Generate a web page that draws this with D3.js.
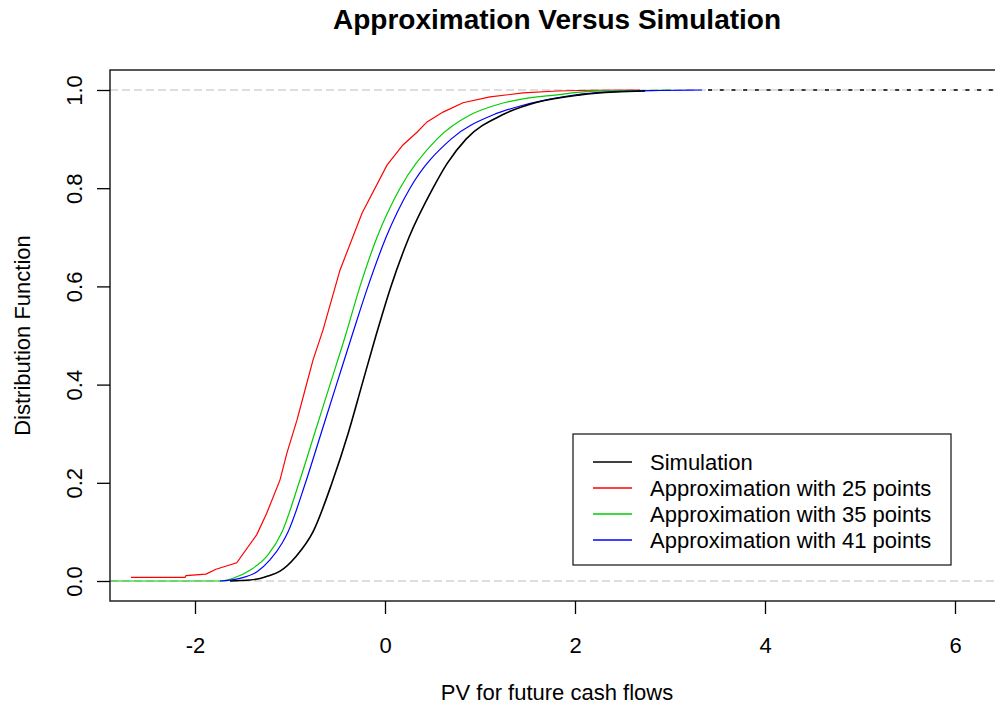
<!DOCTYPE html>
<html>
<head>
<meta charset="utf-8">
<script src="https://cdn.jsdelivr.net/npm/d3@7"></script>
<style>
  body { margin: 0; background: #fff; }
  text { font-family: "Liberation Sans", Arial, sans-serif; fill: #000; }
</style>
</head>
<body>
<div id="chart"></div>
<script>
// data: [x, F(x)]
var simulation = [
    [-1.632, 0], [-1.421, 0.002], [-1.316, 0.005], [-1.232, 0.01], [-1.105, 0.02],
    [-0.937, 0.05], [-0.758, 0.1], [-0.558, 0.2], [-0.389, 0.3], [-0.242, 0.4],
    [-0.095, 0.5], [0.063, 0.6], [0.253, 0.7], [0.505, 0.8], [0.653, 0.85],
    [0.853, 0.9], [1.242, 0.95], [1.6, 0.975], [2.053, 0.99], [2.421, 0.996],
    [2.737, 0.998]
];
var simulationTail = [[3.4, 1], [6.6, 1]];

var approx25 = [
    [-2.674, 0.0075], [-2.105, 0.0075], [-2.095, 0.011], [-1.884, 0.014], [-1.779, 0.024],
    [-1.561, 0.037], [-1.351, 0.094], [-1.245, 0.138], [-1.105, 0.206], [-1.032, 0.261],
    [-0.926, 0.328], [-0.842, 0.389], [-0.758, 0.450], [-0.653, 0.511], [-0.474, 0.633],
    [-0.242, 0.749], [0.021, 0.847], [0.189, 0.888], [0.337, 0.914], [0.442, 0.935],
    [0.611, 0.955], [0.821, 0.974], [1.105, 0.986], [1.453, 0.994], [1.811, 0.998],
    [2.158, 0.9995], [2.684, 1.0]
];

var approx35 = [
    [-2.95, 0], [-1.737, 0], [-1.6, 0.0055], [-1.421, 0.022], [-1.232, 0.053],
    [-1.084, 0.1], [-0.905, 0.2], [-0.742, 0.3], [-0.579, 0.4], [-0.416, 0.5],
    [-0.263, 0.6], [-0.084, 0.7], [0.158, 0.8], [0.547, 0.9], [0.905, 0.95],
    [1.179, 0.970], [1.453, 0.982], [1.811, 0.990], [2.158, 0.997], [2.684, 0.999],
    [3.011, 1.0]
];

var approx41 = [
    [-1.737, 0], [-1.526, 0.0055], [-1.347, 0.019], [-1.211, 0.043], [-1.084, 0.077],
    [-1.021, 0.1], [-0.837, 0.2], [-0.674, 0.3], [-0.511, 0.4], [-0.347, 0.5],
    [-0.179, 0.6], [0.011, 0.7], [0.263, 0.8], [0.695, 0.9], [1.147, 0.95],
    [1.453, 0.969], [1.811, 0.984], [2.084, 0.992], [2.474, 0.997], [2.895, 0.999],
    [3.337, 1.0]
];

var xTicks = [-2, 0, 2, 4, 6];
var yTicks = [0, 0.2, 0.4, 0.6, 0.8, 1.0];
var refLines = [0, 1];

var legendLabels = ["Simulation", "Approximation with 25 points",
    "Approximation with 35 points", "Approximation with 41 points"];
var legendColors = ["#000000", "#ff0000", "#00cd00", "#0000ff"];

// layout
var width = 995, height = 710;
var box = { left: 110, top: 70, right: 1004, bottom: 601 };

var svg = d3.select("#chart").append("svg")
    .attr("width", width)
    .attr("height", height);

var x = d3.scaleLinear().domain([-2, 6]).range([195, 955]);
var y = d3.scaleLinear().domain([0, 1]).range([581, 90]);

svg.append("clipPath").attr("id", "plotclip")
    .append("rect")
    .attr("x", box.left).attr("y", box.top)
    .attr("width", box.right - box.left).attr("height", box.bottom - box.top);

var plot = svg.append("g").attr("clip-path", "url(#plotclip)");

// grey dashed reference lines
plot.selectAll(".ref")
    .data(refLines)
    .enter()
    .append("line")
    .attr("x1", box.left).attr("x2", box.right)
    .attr("y1", (d) => y(d)).attr("y2", (d) => y(d))
    .attr("stroke", "#bebebe")
    .attr("stroke-width", 1.2)
    .attr("stroke-dasharray", "8,4");

var lineLin = d3.line().x((d) => x(d[0])).y((d) => y(d[1]));
var lineSmooth = d3.line().x((d) => x(d[0])).y((d) => y(d[1])).curve(d3.curveMonotoneX);

var series = [
    { data: approx25, color: legendColors[1], gen: lineLin, w: 1.2 },
    { data: approx35, color: legendColors[2], gen: lineSmooth, w: 1.2 },
    { data: approx41, color: legendColors[3], gen: lineSmooth, w: 1.2 },
    { data: simulation, color: legendColors[0], gen: lineSmooth, w: 1.6 }
];

series.forEach((s) => {
    plot.append("path")
        .attr("d", s.gen(s.data))
        .attr("fill", "none")
        .attr("stroke", s.color)
        .attr("stroke-width", s.w);
});

// simulation tail along F = 1
plot.append("path")
    .attr("d", lineLin(simulationTail))
    .attr("fill", "none")
    .attr("stroke", "#000")
    .attr("stroke-width", 1.4)
    .attr("stroke-dasharray", "4,7.7");

// box
svg.append("rect")
    .attr("x", box.left).attr("y", box.top)
    .attr("width", box.right - box.left).attr("height", box.bottom - box.top)
    .attr("fill", "none")
    .attr("stroke", "#222")
    .attr("stroke-width", 1.5);

// x axis
var xAxis = svg.append("g")
    .attr("transform", "translate(0," + box.bottom + ")")
    .call(d3.axisBottom(x).tickValues(xTicks).tickSize(13).tickPadding(24)
        .tickFormat(d3.format("d")));
xAxis.select(".domain").remove();
xAxis.selectAll("line").attr("stroke", "#000").attr("stroke-width", 1.3);
xAxis.selectAll("text")
    .attr("font-size", 22)
    .attr("font-family", "Liberation Sans, Arial, sans-serif")
    .attr("fill", "#000")
    .attr("dy", "0.72em")
    .attr("y", 36)
    .text((d) => (d < 0 ? "-" + Math.abs(d) : d));

// y axis
var yAxis = svg.append("g")
    .attr("transform", "translate(" + box.left + ",0)")
    .call(d3.axisLeft(y).tickValues(yTicks).tickSize(13).tickFormat(d3.format(".1f")));
yAxis.select(".domain").remove();
yAxis.selectAll("line").attr("stroke", "#000").attr("stroke-width", 1.3);
yAxis.selectAll("text")
    .attr("font-size", 22)
    .attr("font-family", "Liberation Sans, Arial, sans-serif")
    .attr("fill", "#000")
    .attr("x", null).attr("dy", null)
    .attr("text-anchor", "middle")
    .attr("transform", "translate(-28,0) rotate(-90)");

// titles
svg.append("text")
    .attr("x", (box.left + box.right) / 2).attr("y", 29)
    .attr("text-anchor", "middle")
    .attr("font-size", 28)
    .attr("font-weight", "bold")
    .text("Approximation Versus Simulation");

svg.append("text")
    .attr("x", (box.left + box.right) / 2).attr("y", 700)
    .attr("text-anchor", "middle")
    .attr("font-size", 22)
    .text("PV for future cash flows");

svg.append("text")
    .attr("transform", "translate(30," + (box.top + box.bottom) / 2 + ") rotate(-90)")
    .attr("text-anchor", "middle")
    .attr("font-size", 22)
    .text("Distribution Function");

// legend
var legend = svg.append("g");
legend.append("rect")
    .attr("x", 573).attr("y", 434)
    .attr("width", 378).attr("height", 131)
    .attr("fill", "#fff")
    .attr("stroke", "#222")
    .attr("stroke-width", 1.3);

var rows = legend.selectAll(".row")
    .data(legendLabels)
    .enter()
    .append("g")
    .attr("transform", (d, i) => "translate(0," + (462 + i * 26) + ")");

rows.append("line")
    .attr("x1", 593).attr("x2", 632)
    .attr("stroke", (d, i) => legendColors[i])
    .attr("stroke-width", 1.3);

rows.append("text")
    .attr("x", 650)
    .attr("dy", "0.36em")
    .attr("font-size", 22)
    .text((d) => d);
</script>
</body>
</html>
